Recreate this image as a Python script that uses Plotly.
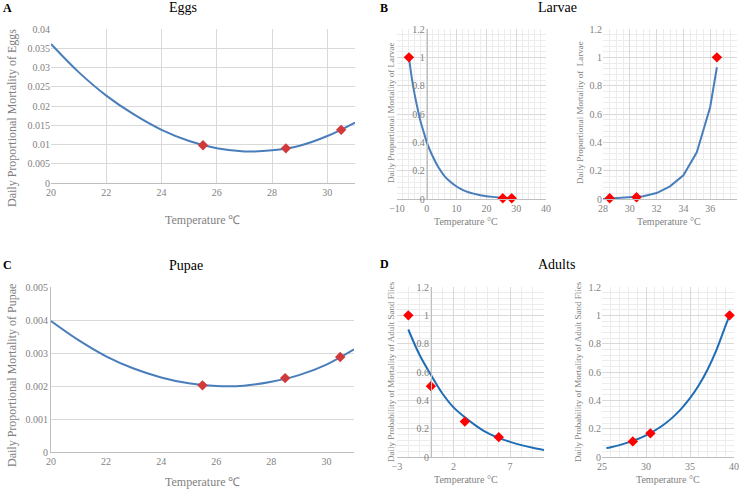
import plotly.graph_objects as go

W, H = 741, 490

# ---------------- data ----------------
egg_t = [20, 21, 22, 23, 24, 25, 26, 27, 28, 29, 30, 31]
egg_m = [0.0361, 0.0288, 0.0227, 0.0178, 0.0138, 0.0109, 0.0090, 0.0082, 0.0085, 0.0097, 0.0122, 0.0157]
egg_obs_t = [25.5, 28.5, 30.5]
egg_obs_m = [0.0098, 0.0090, 0.0138]

lar_lo_t = [-6, -5, -4, -3, -2, -1, 0, 2, 4, 6, 8, 10, 12, 14, 16, 18, 20, 22, 24, 26, 28.5]
lar_lo_m = [1.0, 0.85, 0.73, 0.63, 0.54, 0.47, 0.40, 0.30, 0.22, 0.16, 0.12, 0.088, 0.065, 0.048, 0.036, 0.027, 0.020, 0.015, 0.011, 0.008, 0.006]
lar_lo_obs_t = [-6, 25.5, 28.5]
lar_lo_obs_m = [1.0, 0.005, 0.005]

lar_hi_t = [28, 29, 30, 31, 32, 33, 34, 35, 36, 36.5]
lar_hi_m = [0.0, 0.005, 0.010, 0.020, 0.042, 0.089, 0.167, 0.33, 0.65, 0.93]
lar_hi_obs_t = [28.5, 30.5, 36.5]
lar_hi_obs_m = [0.005, 0.012, 1.0]

pup_t = [20, 21, 22, 23, 24, 25, 26, 27, 28, 29, 30, 31]
pup_m = [0.00397, 0.00339, 0.00290, 0.00253, 0.00226, 0.00208, 0.00200, 0.00201, 0.00213, 0.00233, 0.00265, 0.00311]
pup_obs_t = [25.5, 28.5, 30.5]
pup_obs_m = [0.00202, 0.00224, 0.00288]

ad_lo_t = [-2, -1, 0, 1, 2, 3, 4, 5, 6, 7, 8, 9, 10]
ad_lo_m = [0.90, 0.72, 0.58, 0.45, 0.35, 0.28, 0.22, 0.17, 0.135, 0.107, 0.084, 0.066, 0.050]
ad_lo_obs_t = [-2, 0, 3, 6]
ad_lo_obs_m = [1.0, 0.5, 0.25, 0.14]

ad_hi_t = [25.5, 26, 27, 28, 29, 30, 31, 32, 33, 34, 35, 36, 37, 38, 39, 39.5]
ad_hi_m = [0.063, 0.069, 0.084, 0.103, 0.125, 0.153, 0.187, 0.228, 0.278, 0.340, 0.415, 0.506, 0.618, 0.754, 0.920, 1.0]
ad_hi_obs_t = [28.5, 30.5, 39.5]
ad_hi_obs_m = [0.11, 0.167, 1.0]

# ---------------- layout helpers ----------------
def xd(a, b):
    return [a / W, b / W]

def yd(top, bot):
    return [1 - bot / H, 1 - top / H]

FONT = "Liberation Serif, Times New Roman, serif"
TICK = dict(family=FONT, size=10, color="#7f7f7f")
GRID = "#d9d9d9"
MINOR = "#ececec"
LINE_A = "#4a7ebb"
LINE_D = "#1f6db5"
RED_DARK = "#d03a3a"
RED = "#ff0000"

fig = go.Figure()

def curve(x, y, ax, color, shape="spline"):
    fig.add_trace(go.Scatter(x=x, y=y, mode="lines", xaxis="x" + ax, yaxis="y" + ax,
                             line=dict(color=color, width=2, shape=shape), showlegend=False,
                             hoverinfo="skip", cliponaxis=False))

def pts(x, y, ax, color, size=8):
    fig.add_trace(go.Scatter(x=x, y=y, mode="markers", xaxis="x" + ax, yaxis="y" + ax,
                             marker=dict(symbol="diamond", color=color, size=size,
                                         line=dict(width=0)), showlegend=False,
                             cliponaxis=False))

curve(egg_t, egg_m, "", LINE_A)
pts(egg_obs_t, egg_obs_m, "", RED_DARK)
curve(lar_lo_t, lar_lo_m, "2", LINE_A)
pts(lar_lo_obs_t, lar_lo_obs_m, "2", RED, 8)
curve(lar_hi_t, lar_hi_m, "3", LINE_A, "linear")
pts(lar_hi_obs_t, lar_hi_obs_m, "3", RED, 8)
curve(pup_t, pup_m, "4", LINE_A)
pts(pup_obs_t, pup_obs_m, "4", RED_DARK)
curve(ad_lo_t, ad_lo_m, "5", LINE_D)
pts(ad_lo_obs_t, ad_lo_obs_m, "5", RED, 8)
curve(ad_hi_t, ad_hi_m, "6", LINE_D)
pts(ad_hi_obs_t, ad_hi_obs_m, "6", RED, 8)

def xax(dom, rng, dtick, anchor, tick0=None, minor=None, grid=True):
    d = dict(domain=dom, range=rng, dtick=dtick, anchor=anchor, tickfont=TICK,
             showgrid=grid, gridcolor=GRID, gridwidth=1, zeroline=False,
             showline=True, linecolor="#bfbfbf", ticks="", fixedrange=True,
             automargin=False)
    if tick0 is not None:
        d["tick0"] = tick0
    if minor is not None:
        d["minor"] = dict(dtick=minor, showgrid=True, gridcolor=MINOR, gridwidth=1)
    return d

def yax(dom, rng, dtick, anchor, minor=None, position=None, showline=False):
    d = dict(domain=dom, range=rng, dtick=dtick, tickfont=TICK,
             showgrid=True, gridcolor=GRID, gridwidth=1, zeroline=False,
             showline=showline, linecolor="#bfbfbf", ticks="", fixedrange=True,
             automargin=False)
    if position is not None:
        d["anchor"] = "free"
        d["position"] = position
    else:
        d["anchor"] = anchor
    if minor is not None:
        d["minor"] = dict(dtick=minor, showgrid=True, gridcolor=MINOR, gridwidth=1)
    return d

dA = xd(51, 355); yA = yd(29, 183)
dB1 = xd(397, 546); yB = yd(29, 199)
dB2 = xd(603, 737)
dC = xd(51, 354); yC = yd(287, 452)
dD1 = xd(397, 544); yD = yd(287, 457)
dD2 = xd(602, 734)

def zero_pos(dom, rng):
    return dom[0] + (0 - rng[0]) / (rng[1] - rng[0]) * (dom[1] - dom[0])

rB1 = [-10, 40]
rD1 = [-3, 10]

fig.update_layout(
    width=W, height=H, margin=dict(l=0, r=0, t=0, b=0, autoexpand=False),
    paper_bgcolor="white", plot_bgcolor="white",
    font=dict(family=FONT),
    xaxis=xax(dA, [20, 31], 2, "y"),
    yaxis=yax(yA, [0, 0.04], 0.005, "x"),
    xaxis2=xax(dB1, rB1, 10, "y2", minor=2),
    yaxis2=yax(yB, [0, 1.2], 0.2, "x2", minor=0.04, position=zero_pos(dB1, rB1), showline=True),
    xaxis3=xax(dB2, [28, 38], 2, "y3", minor=0.5),
    yaxis3=yax(yB, [0, 1.2], 0.2, "x3", minor=0.04),
    xaxis4=xax(dC, [20, 31], 2, "y4", grid=False),
    yaxis4=yax(yC, [0, 0.005], 0.001, "x4", showline=True),
    xaxis5=xax(dD1, rD1, 5, "y5", tick0=-3, minor=1),
    yaxis5=yax(yD, [0, 1.2], 0.2, "x5", minor=0.04, position=zero_pos(dD1, rD1), showline=True),
    xaxis6=xax(dD2, [25, 40], 5, "y6", minor=1),
    yaxis6=yax(yD, [0, 1.2], 0.2, "x6", minor=0.04),
)

def txt(x, y, s, size, color="black", angle=0, bold=False):
    if bold:
        s = "<b>" + s + "</b>"
    fig.add_annotation(x=x / W, y=1 - y / H, xref="paper", yref="paper", text=s,
                       showarrow=False, textangle=angle, xanchor="center", yanchor="middle",
                       font=dict(family=FONT, size=size, color=color))

GRAY = "#7f7f7f"
# panel letters and titles
txt(7, 8, "A", 12, bold=True)
txt(183, 8, "Eggs", 14)
txt(384, 8, "B", 12, bold=True)
txt(557, 8, "Larvae", 14)
txt(7, 265, "C", 12, bold=True)
txt(186, 265, "Pupae", 14)
txt(384, 264, "D", 12, bold=True)
txt(556, 264, "Adults", 14)

# axis titles
txt(203, 220, "Temperature \u2103", 12, GRAY)
txt(12, 118, "Daily Proportional Mortality of Eggs", 12, GRAY, angle=-90)
txt(203, 482, "Temperature \u2103", 12, GRAY)
txt(12, 376, "Daily Proportional Mortality of Pupae", 12, GRAY, angle=-90)

txt(466, 221, "Temperature \u00b0C", 10, GRAY)
txt(391, 113, "Daily Proportional Mortality of Larvae", 9, GRAY, angle=-90)
txt(669, 221, "Temperature \u00b0C", 10, GRAY)
txt(580, 113, "Daily Proportional Mortality of  Larvae", 9, GRAY, angle=-90)

txt(466, 479, "Temperature \u00b0C", 10, GRAY)
txt(391, 372, "Daily Probability of Mortality of Adult Sand Flies", 9, GRAY, angle=-90)
txt(668, 479, "Temperature \u00b0C", 10, GRAY)
txt(578, 372, "Daily Probability of Mortality of Adult Sand Flies", 9, GRAY, angle=-90)

fig.write_html("out.html", config=dict(displayModeBar=False),
               post_script="document.body.style.margin='0';document.body.style.overflow='hidden';")
